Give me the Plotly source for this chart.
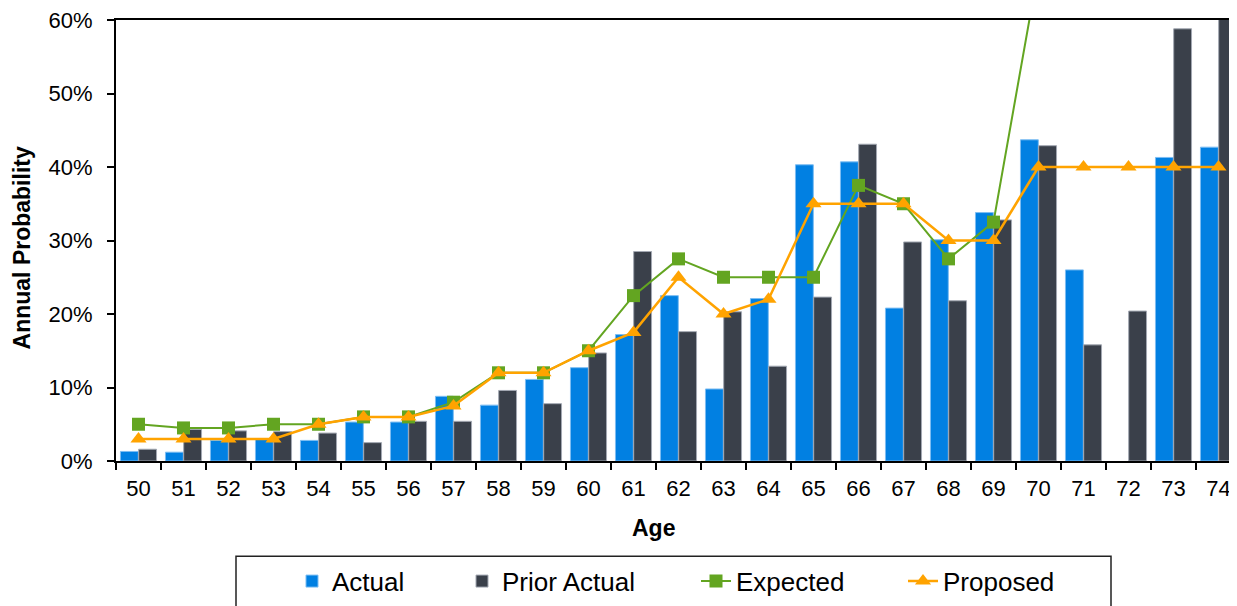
import plotly.graph_objects as go

ages = ["50", "51", "52", "53", "54", "55", "56", "57", "58", "59", "60", "61", "62",
        "63", "64", "65", "66", "67", "68", "69", "70", "71", "72", "73", "74"]
actual = [0.013, 0.012, 0.028, 0.030, 0.028, 0.053, 0.053, 0.088, 0.076, 0.111, 0.127,
          0.172, 0.225, 0.098, 0.221, 0.403, 0.407, 0.208, 0.301, 0.338, 0.437, 0.260,
          None, 0.413, 0.427]
prior_actual = [0.016, 0.043, 0.041, 0.040, 0.038, 0.025, 0.054, 0.054, 0.096, 0.078, 0.147,
                0.285, 0.176, 0.203, 0.129, 0.223, 0.431, 0.298, 0.218, 0.328, 0.429, 0.158,
                0.204, 0.588, 0.650]
expected = [0.05, 0.045, 0.045, 0.05, 0.05, 0.06, 0.06, 0.08, 0.12, 0.12, 0.15, 0.225,
            0.275, 0.25, 0.25, 0.25, 0.375, 0.35, 0.275, 0.325, 0.67, None, None, None, None]
proposed = [0.03, 0.03, 0.03, 0.03, 0.05, 0.06, 0.06, 0.075, 0.12, 0.12, 0.15, 0.175,
            0.25, 0.20, 0.22, 0.35, 0.35, 0.35, 0.30, 0.30, 0.40, 0.40, 0.40, 0.40, 0.40]
y_ticks = [0, 0.1, 0.2, 0.3, 0.4, 0.5, 0.6]
y_tick_labels = ["0%", "10%", "20%", "30%", "40%", "50%", "60%"]

FONT = "Liberation Sans, Arial, sans-serif"
BLUE = "#0180E2"
DARK = "#3A404A"
GREEN = "#63A521"
ORANGE = "#FFA300"

fig = go.Figure()
fig.add_trace(go.Bar(x=ages, y=actual, name="Actual", legend="legend",
                     marker=dict(color=BLUE, line=dict(color="#7DBDF2", width=1))))
fig.add_trace(go.Bar(x=ages, y=prior_actual, name="Prior Actual", legend="legend2",
                     marker=dict(color=DARK, line=dict(color="#A3A8B2", width=1))))
fig.add_trace(go.Scatter(x=ages, y=expected, name="Expected", legend="legend3",
                         mode="lines+markers",
                         line=dict(color=GREEN, width=2),
                         marker=dict(symbol="square", size=13, color=GREEN, line=dict(width=0))))
fig.add_trace(go.Scatter(x=ages, y=proposed, name="Proposed", legend="legend4",
                         mode="lines+markers",
                         line=dict(color=ORANGE, width=2.5),
                         marker=dict(symbol="triangle-up", size=14, color=ORANGE, line=dict(width=0))))

# the page body has an 8px margin; size the figure so it fills the window exactly
OFF = 8
W, H = 1237 - OFF, 606 - OFF
PLOT_LEFT, PLOT_TOP, PLOT_BOTTOM = 116, 17, 461          # page pixels
L, T = PLOT_LEFT - OFF, PLOT_TOP - OFF
B = H - (PLOT_BOTTOM - OFF)
R = 0
PW, PH = W - L - R, H - T - B


def px_x(px):
    return (px - PLOT_LEFT) / PW


def px_y(py):
    return (PLOT_BOTTOM - py) / PH


leg_common = dict(orientation="h", xanchor="left", yanchor="middle",
                  bgcolor="rgba(0,0,0,0)", borderwidth=0,
                  font=dict(family=FONT, size=26, color="#000000"))

fig.update_layout(
    width=W, height=H, autosize=False,
    margin=dict(l=L, r=R, t=T, b=B, pad=0),
    paper_bgcolor="white", plot_bgcolor="white",
    font=dict(family=FONT, color="#000000"),
    barmode="group", bargap=0.19, bargroupgap=0.02,
    showlegend=True,
    legend=dict(x=px_x(292), y=px_y(582), **leg_common),
    legend2=dict(x=px_x(462), y=px_y(582), **leg_common),
    legend3=dict(x=px_x(696), y=px_y(582), **leg_common),
    legend4=dict(x=px_x(903), y=px_y(582), **leg_common),
    xaxis=dict(type="category", range=[-0.5, -0.5 + PW / 45.0],
               showgrid=False, zeroline=False,
               showline=True, linecolor="#000000", linewidth=2, mirror=True,
               ticks="outside", tickson="boundaries", ticklen=7, tickwidth=1.5,
               tickcolor="#000000", ticklabelstandoff=7,
               tickfont=dict(family=FONT, size=22, color="#000000")),
    yaxis=dict(range=[0, 0.6], tickvals=y_ticks, ticktext=y_tick_labels,
               showgrid=False, zeroline=False,
               showline=True, linecolor="#000000", linewidth=2,
               ticks="outside", ticklen=7, tickwidth=1.5, tickcolor="#000000",
               ticklabelstandoff=10, ticklabeloverflow="allow",
               tickfont=dict(family=FONT, size=22, color="#000000")),
    annotations=[
        dict(text="<b>Age</b>", xref="paper", yref="paper", x=px_x(653), y=px_y(528),
             xanchor="center", yanchor="middle", showarrow=False,
             font=dict(family=FONT, size=23, color="#000000")),
        dict(text="<b>Annual Probability</b>", xref="paper", yref="paper",
             x=px_x(22), y=px_y(247), xanchor="center", yanchor="middle",
             textangle=-90, showarrow=False,
             font=dict(family=FONT, size=23, color="#000000")),
    ],
    shapes=[
        dict(type="rect", xref="paper", yref="paper",
             x0=px_x(236), x1=px_x(1111), y0=px_y(557), y1=px_y(640),
             line=dict(color="#222222", width=1.5), fillcolor="rgba(0,0,0,0)", layer="below"),
    ],
)

fig.write_html("out.html")
